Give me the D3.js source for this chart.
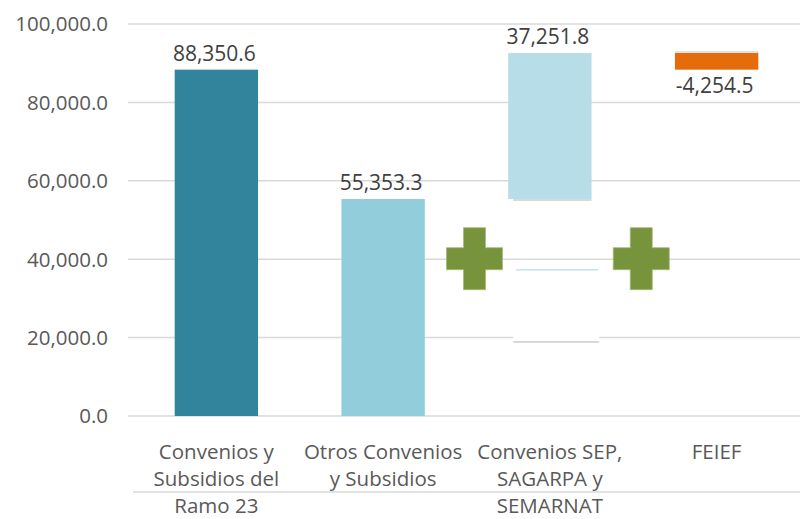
<!DOCTYPE html>
<html>
<head>
<meta charset="utf-8">
<script src="https://cdn.jsdelivr.net/npm/d3@7"></script>
<style>
  body { margin: 0; background: #fff; }
  svg { display: block; font-family: 'Open Sans', sans-serif; }
</style>
</head>
<body>
<div id="chart"></div>
<script>
// Waterfall of federal transfers (millions of pesos)

var categories = ['Convenios y Subsidios del Ramo 23', 'Otros Convenios y Subsidios', 'Convenios SEP, SAGARPA y SEMARNAT', 'FEIEF']
var categoryLines = [
  ['Convenios y', 'Subsidios del', 'Ramo 23'],
  ['Otros Convenios', 'y Subsidios'],
  ['Convenios SEP,', 'SAGARPA y', 'SEMARNAT'],
  ['FEIEF']
]
var values = [88350.6, 55353.3, 37251.8, -4254.5]
// 'total' bars start at zero, 'step' bars float on the running sum
var barTypes = ['total', 'total', 'step', 'step']
var barColors = ['#31849b', '#92cddc', '#b7dde8', '#e46c0a']
var yTicks = [0, 20000, 40000, 60000, 80000, 100000]

var width = 800
var height = 519
var plotLeft = 133
var plotRight = 800

var svg = d3.select('#chart').append('svg')
  .attr('width', width)
  .attr('height', height)

var x = d3.scaleBand()
  .domain(categories)
  .range([plotLeft, plotRight])
  .paddingInner(0.5)
  .paddingOuter(0.25)

var y = d3.scaleLinear()
  .domain([0, 100000])
  .range([416, 24])

// plain hyphen for negatives, like the source
var fmt = d3.formatLocale({ decimal: '.', thousands: ',', grouping: [3], currency: ['$', ''], minus: '-' }).format(',.1f')

// work out the start / end of each bar
var bars = []
var running = 0
values.forEach(function (v, i) {
  var start = barTypes[i] === 'total' ? 0 : running
  var end = start + v
  running = end
  bars.push({ cat: categories[i], value: v, start: start, end: end, color: barColors[i] })
})

// gridlines
svg.append('g').selectAll('line')
  .data(yTicks)
  .join('line')
  .attr('x1', 128)
  .attr('x2', plotRight)
  .attr('y1', function (d) { return y(d) })
  .attr('y2', function (d) { return y(d) })
  .attr('stroke', '#d9d9d9')
  .attr('stroke-width', 1.5)

// lower separator line in the category area
svg.append('line')
  .attr('x1', plotLeft)
  .attr('x2', plotRight)
  .attr('y1', 492)
  .attr('y2', 492)
  .attr('stroke', '#d9d9d9')
  .attr('stroke-width', 1.5)

// y tick labels
svg.append('g').selectAll('text')
  .data(yTicks)
  .join('text')
  .attr('x', 108)
  .attr('y', function (d) { return y(d) })
  .attr('dy', '0.36em')
  .attr('text-anchor', 'end')
  .attr('fill', '#595959')
  .style('font-size', '20.5px')
  .text(function (d) { return fmt(d) })

// the patch under the third bar (white box with a faint shadow)
var b3 = bars[2]
var x3 = x(b3.cat)
svg.append('rect')
  .attr('x', x3 + 5)
  .attr('y', y(22500))
  .attr('width', 86)
  .attr('height', y(18900) - y(22500))
  .attr('fill', '#fff')
svg.append('line')
  .attr('x1', x3 + 5)
  .attr('x2', x3 + 91)
  .attr('y1', y(18900))
  .attr('y2', y(18900))
  .attr('stroke', '#d9d9d9')
  .attr('stroke-width', 2)
svg.append('line')
  .attr('x1', x3 + 8)
  .attr('x2', x3 + 90)
  .attr('y1', y(b3.value))
  .attr('y2', y(b3.value))
  .attr('stroke', '#b7dde8')
  .attr('stroke-width', 1.2)

// bars
svg.append('g').selectAll('rect')
  .data(bars)
  .join('rect')
  .attr('x', function (d) { return x(d.cat) })
  .attr('width', x.bandwidth())
  .attr('y', function (d) { return y(Math.max(d.start, d.end)) })
  .attr('height', function (d) { return Math.abs(y(d.start) - y(d.end)) })
  .attr('fill', function (d) { return d.color })

// faint shadow edges on the floating bars
svg.append('line')
  .attr('x1', x3 + 5)
  .attr('x2', x3 + x.bandwidth())
  .attr('y1', y(b3.start) + 1)
  .attr('y2', y(b3.start) + 1)
  .attr('stroke', '#d9d9d9')
  .attr('stroke-width', 2)
var b4 = bars[3]
svg.append('line')
  .attr('x1', x(b4.cat))
  .attr('x2', x(b4.cat) + x.bandwidth())
  .attr('y1', y(b4.start) - 1)
  .attr('y2', y(b4.start) - 1)
  .attr('stroke', '#d9d9d9')
  .attr('stroke-width', 1.5)

// value labels: above positive bars, below negative ones
svg.append('g').selectAll('text')
  .data(bars)
  .join('text')
  .attr('x', function (d) { return x(d.cat) + x.bandwidth() / 2 - 2 })
  .attr('y', function (d) {
    return d.value >= 0 ? y(d.end) - 9 : y(d.end) + 23
  })
  .attr('text-anchor', 'middle')
  .attr('fill', '#404040')
  .style('font-size', '21px')
  .text(function (d) { return fmt(d.value) })

// category labels
var baseLines = [459, 486, 513]
svg.append('g').selectAll('text')
  .data(categoryLines)
  .join('text')
  .attr('text-anchor', 'middle')
  .attr('fill', '#595959')
  .style('font-size', '20.5px')
  .each(function (lines, i) {
    var cx = x(categories[i]) + x.bandwidth() / 2
    d3.select(this).selectAll('tspan')
      .data(lines)
      .join('tspan')
      .attr('x', cx)
      .attr('y', function (d, j) { return baseLines[j] })
      .text(function (d) { return d })
  })

// green plus signs between the columns
var plusAt = [1, 2]
var arm = 11
var halfW = 28
var halfH = 31
var plusPath = 'M' + (-arm) + ',' + (-halfH) + 'H' + arm + 'V' + (-arm) + 'H' + halfW + 'V' + arm +
  'H' + arm + 'V' + halfH + 'H' + (-arm) + 'V' + arm + 'H' + (-halfW) + 'V' + (-arm) + 'H' + (-arm) + 'Z'
svg.append('g').selectAll('path')
  .data(plusAt)
  .join('path')
  .attr('d', plusPath)
  .attr('transform', function (d) {
    var cx = x(categories[d + 1]) - x.step() * 0.25 + 8
    return 'translate(' + cx + ',' + (y(40000) - 0.5) + ')'
  })
  .attr('fill', '#77933c')
  .attr('stroke', '#a4b97a')
  .attr('stroke-width', 0.8)
</script>
</body>
</html>
